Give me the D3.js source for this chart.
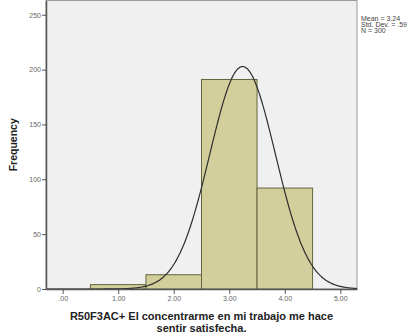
<!DOCTYPE html>
<html>
<head>
<meta charset="utf-8">
<script src="https://cdn.jsdelivr.net/npm/d3@7"></script>
<style>
  body { margin: 0; background: #fff; }
  svg { display: block; }
</style>
</head>
<body>
<div id="chart"></div>
<script>
// histogram bins (midpoints) and counts
const binMids = [1, 2, 3, 4]
const binCounts = [4, 13, 191, 92]
const binWidth = 1

const xTicks = [0, 1, 2, 3, 4, 5]
const xTickLabels = [".00", "1.00", "2.00", "3.00", "4.00", "5.00"]
const yTicks = [0, 50, 100, 150, 200, 250]

// fitted normal curve stats (from the legend)
const statMean = 3.24
const statSd = 0.59
const statN = 300
const legendLines = ["Mean = 3.24", "Std. Dev. = .59", "N = 300"]

const xTitle = ["R50F3AC+ El concentrarme en mi trabajo me hace", "sentir satisfecha."]
const yTitle = "Frequency"

const width = 417
const height = 336
const plot = {left: 46, right: 357, top: 0.5, bottom: 289}

const svg = d3.select("#chart").append("svg")
    .attr("width", width)
    .attr("height", height)

const x = d3.scaleLinear().domain([-0.3, 5.3]).range([plot.left, plot.right])
const y = d3.scaleLinear().domain([0, 263]).range([plot.bottom, plot.top])

// plot background
svg.append("rect")
    .attr("x", plot.left)
    .attr("y", plot.top)
    .attr("width", plot.right - plot.left)
    .attr("height", plot.bottom - plot.top)
    .attr("fill", "#f0f0f0")
    .attr("stroke", "#9a9a9a")
    .attr("stroke-width", 1)

// bars
svg.append("g")
    .selectAll("rect")
    .data(binMids.map((m, i) => ({mid: m, count: binCounts[i]})))
    .join("rect")
    .attr("x", d => x(d.mid - binWidth / 2))
    .attr("y", d => y(d.count))
    .attr("width", d => x(d.mid + binWidth / 2) - x(d.mid - binWidth / 2))
    .attr("height", d => y(0) - y(d.count))
    .attr("fill", "#d3cf9c")
    .attr("stroke", "#66643f")
    .attr("stroke-width", 1)

// normal curve scaled to the histogram
const pdf = v => statN * binWidth * Math.exp(-0.5 * ((v - statMean) / statSd) ** 2) / (statSd * Math.sqrt(2 * Math.PI))
const curvePts = d3.range(-0.3, 5.3001, 0.02).map(v => [v, pdf(v)])
const line = d3.line().x(d => x(d[0])).y(d => y(d[1])).curve(d3.curveBasis)

svg.append("path")
    .datum(curvePts)
    .attr("d", line)
    .attr("fill", "none")
    .attr("stroke", "#2e2e2e")
    .attr("stroke-width", 1.2)

// axes
const xAxis = d3.axisBottom(x)
    .tickValues(xTicks)
    .tickFormat((d, i) => xTickLabels[i])
    .tickSize(5)
    .tickSizeOuter(0)

const gx = svg.append("g")
    .attr("transform", `translate(0,${plot.bottom})`)
    .call(xAxis)
gx.select(".domain").attr("stroke", "#555").attr("stroke-width", 1.5)
gx.selectAll(".tick line").attr("stroke", "#555")
gx.selectAll(".tick text")
    .attr("fill", "#666")
    .attr("font-family", "Arial, 'Liberation Sans', sans-serif")
    .attr("font-size", 7)
    .attr("dy", "0.5em")

const yAxis = d3.axisLeft(y)
    .tickValues(yTicks)
    .tickSize(4)
    .tickSizeOuter(0)

const gy = svg.append("g")
    .attr("transform", `translate(${plot.left},0)`)
    .call(yAxis)
gy.select(".domain").attr("stroke", "#555").attr("stroke-width", 1.5)
gy.selectAll(".tick line").attr("stroke", "#555")
gy.selectAll(".tick text")
    .attr("fill", "#666")
    .attr("font-family", "Arial, 'Liberation Sans', sans-serif")
    .attr("font-size", 7)
    .attr("x", -5)

// axis titles
svg.append("text")
    .attr("transform", `translate(17,${(plot.top + plot.bottom) / 2}) rotate(-90)`)
    .attr("text-anchor", "middle")
    .attr("font-family", "Arial, 'Liberation Sans', sans-serif")
    .attr("font-weight", "bold")
    .attr("font-size", 10.5)
    .attr("fill", "#222")
    .text(yTitle)

svg.append("g")
    .selectAll("text")
    .data(xTitle)
    .join("text")
    .attr("x", (plot.left + plot.right) / 2)
    .attr("y", (d, i) => 320 + i * 12)
    .attr("text-anchor", "middle")
    .attr("font-family", "Arial, 'Liberation Sans', sans-serif")
    .attr("font-weight", "bold")
    .attr("font-size", 11)
    .attr("fill", "#222")
    .text(d => d)

// stats legend
svg.append("g")
    .selectAll("text")
    .data(legendLines)
    .join("text")
    .attr("x", 361)
    .attr("y", (d, i) => 21 + i * 6)
    .attr("font-family", "Arial, 'Liberation Sans', sans-serif")
    .attr("font-size", 7)
    .attr("fill", "#444")
    .text(d => d)
</script>
</body>
</html>
